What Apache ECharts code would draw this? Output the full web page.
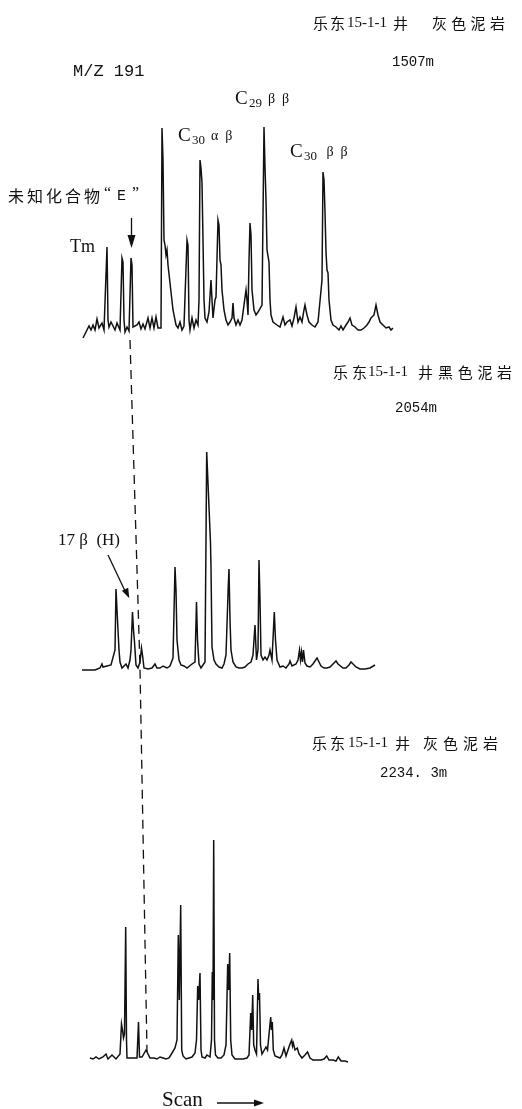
<!DOCTYPE html>
<html><head><meta charset="utf-8">
<script src="https://cdn.jsdelivr.net/npm/echarts@6/dist/echarts.min.js"></script>
<style>html,body{margin:0;padding:0;background:#fff}#c{width:522px;height:1109px}</style>
</head><body><div id="c"></div>
<script>
// ---- DATA: m/z 191 mass chromatograms, [scan, relative abundance] ----
const trace1507 = [[83,-10],[86,-4],[89,2],[91,-2],[93,3],[95,-2],[97,9],[99,0],[102,5],[104,-2],[106,-1],[107,81],[108,8],[109,1],[111,6],[113,2],[115,-2],[117,5],[120,-2],[121.5,-2],[122,70],[123,66],[124,8],[125,-4],[127,1],[129,-3],[131,70],[132,63],[133,1],[135,-1],[137,3],[139,6],[141,-1],[143,4],[145,-1],[148,10],[150,0],[152,10],[154,0],[156,11],[158,0],[161,0],[162,200],[163,168],[164,88],[165,83],[166,73],[167,78],[168,63],[170,45],[173,18],[176,3],[178,0],[180,6],[182,-2],[184,2],[186,0],[187,88],[188,83],[189,8],[190,-2],[192,10],[194,0],[196,8],[198,3],[199,28],[200,168],[201,160],[202,145],[203,88],[204,28],[205,10],[207,6],[209,16],[211,48],[212,28],[213,10],[215,28],[216,31],[218,108],[219,103],[220,68],[221,63],[222,38],[224,18],[226,8],[228,3],[230,6],[232,10],[233,25],[234,10],[236,3],[238,8],[240,3],[242,8],[244,8],[246,38],[247,28],[248,13],[249,68],[250,105],[251,93],[252,38],[254,18],[256,13],[258,16],[260,18],[262,23],[264,201],[265,161],[266,128],[267,78],[268,76],[269,66],[270,28],[271,13],[273,6],[277,3],[280,1],[283,11],[285,3],[287,6],[290,8],[292,2],[294,10],[296,21],[298,6],[300,11],[302,6],[304,18],[305,23],[307,13],[309,6],[312,3],[315,1],[318,6],[320,6],[322,48],[323,156],[324,148],[325,116],[326,76],[327,58],[328,55],[329,28],[331,8],[333,3],[336,1],[339,-2],[341,2],[343,-2],[346,3],[348,6],[350,10],[352,3],[355,1],[358,-2],[361,-2],[364,0],[367,3],[369,6],[371,10],[374,13],[376,23],[378,13],[380,6],[383,3],[386,0],[389,1],[391,-2],[393,0]];

const trace2054 = [[82,-2],[88,-2],[95,-2],[100,0],[102,4],[103,1],[105,0],[107,2],[109,0],[111,3],[113,5],[115,18],[116,79],[117,58],[118,38],[119,18],[120,6],[122,0],[124,2],[126,4],[128,0],[130,8],[131,18],[132.5,56],[133.5,38],[134.5,26],[136,3],[138,0],[140,6],[141.5,20],[142.5,13],[144,0],[148,-1],[152,0],[155,4],[157,0],[160,0],[163,2],[165,4],[167,0],[170,2],[173,10],[175,101],[176,78],[177,28],[179,8],[181,3],[184,2],[187,0],[189,1],[192,4],[195,6],[196.5,66],[197.5,28],[199,4],[201,0],[203,2],[205,6],[206.7,216],[210.5,125],[211,100],[211.5,60],[212,21],[214,8],[216,4],[219,1],[222,0],[224,4],[226,13],[228.3,83],[229,99],[230,48],[231,18],[233,6],[236,1],[239,0],[242,0],[245,1],[248,4],[251,6],[253,13],[255,43],[256.5,8],[258,18],[259,108],[260,68],[261,13],[263,8],[265,11],[267,8],[269,13],[270,18],[272,8],[274.3,56],[275.5,28],[277,8],[280,1],[283,2],[286,0],[289,4],[290,7],[292,2],[294,3],[296,4],[298,8],[299.5,18],[300.5,8],[301.5,16],[302.5,6],[303.5,18],[305,5],[307,2],[310,1],[313,4],[315,6],[317,10],[319,6],[321,2],[324,0],[327,0],[330,1],[333,4],[336,7],[338,4],[340,2],[343,0],[346,0],[349,3],[351,6],[353,4],[356,1],[360,-1],[365,-1],[370,0],[375,3]];

const trace2234 = [[90,0],[93,-1],[96,1],[99,-1],[101,-2],[103,1],[106,4],[108,-1],[110,0],[112,3],[114,5],[116,-1],[118,0],[120,4],[121.5,34],[122.5,28],[123.5,20],[124.5,24],[125.7,131],[126.5,18],[127,0],[130,0],[134,0],[137,0],[138.5,36],[139.5,1],[142,1],[144,3],[146,8],[148,4],[150,0],[154,0],[157,-1],[160,1],[163,0],[166,-1],[169,0],[172,5],[175,10],[177,18],[178.3,123],[179.3,58],[180.7,153],[181.7,8],[183,2],[186,-1],[189,0],[192,1],[195,5],[196.5,18],[197.7,72],[198.7,58],[200,85],[201,8],[202,1],[205,0],[207,3],[208.5,5],[210,1],[211.5,18],[212.3,86],[213,58],[213.7,218],[214.5,18],[215.5,3],[218,0],[221,0],[224,3],[226,13],[227.7,94],[228.7,68],[229.7,105],[230.7,18],[232,3],[235,-1],[239,-1],[243,-1],[247,0],[249,3],[250.7,45],[251.7,28],[252.7,63],[253.7,13],[255,8],[256.5,4],[258,79],[258.7,58],[259.5,65],[260.5,13],[262,4],[264,3],[266,11],[267.5,8],[269,6],[270.7,41],[271.5,28],[272.3,36],[273.3,8],[275,2],[277,0],[280,0],[282,3],[284,10],[286,2],[288,8],[290,14],[291.7,18],[292.5,12],[293.3,15],[295,8],[297.3,10],[299,4],[302,0],[305,3],[307.5,6],[310,0],[313,-2],[317,-2],[321,-2],[324,-1],[326.7,2],[329,-2],[333,-2],[336,-3],[338.3,1],[341,-3],[345,-3],[348,-4]];

const sampleWell = ['乐东', '15-1-1', '井'];
const sampleLithology = ['灰色泥岩', '黑色泥岩', '灰色泥岩'];
const sampleDepth = ['1507m', '2054m', '2234. 3m'];
const ionLabel = 'M/Z 191';
const unknownName = '未知化合物';
const unknownCode = 'E';
const axisLabel = 'Scan';

// ---- CHART ----
const chart = echarts.init(document.getElementById('c'), null, {renderer: 'canvas'});
const CJK = '"Noto Sans CJK SC", sans-serif';
const SERIF = '"Liberation Serif", "DejaVu Serif", serif';
const MONO = '"Liberation Mono", "DejaVu Sans Mono", monospace';
const INK = '#111';

const gridTops = [100, 440, 830];
const traces = [trace1507, trace2054, trace2234];
const grids = gridTops.map(t => ({left: 80, width: 320, top: t, height: 250}));
const xAxes = gridTops.map((_, i) => ({type: 'value', gridIndex: i, min: 80, max: 400, show: false}));
const yAxes = gridTops.map((_, i) => ({type: 'value', gridIndex: i, min: -22, max: 228, show: false}));
const series = traces.map((d, i) => ({
  type: 'line', xAxisIndex: i, yAxisIndex: i, data: d, symbol: 'none', silent: true,
  lineStyle: {color: INK, width: 1.5, join: 'miter'}
}));

function txt(x, y, s, font, align) {
  return {type: 'text', x: x, y: y, silent: true,
    style: {text: s, font: font, fill: INK, align: align || 'left', verticalAlign: 'middle'}};
}
function spaced(x, y, s, step, font) {
  return Array.from(s).map((ch, i) => txt(x + i * step, y, ch, font));
}
function title(y, xs, lith) {
  const f = '15px ' + CJK;
  return [
    ...spaced(xs[0], y, sampleWell[0], xs[1], f),
    txt(xs[2], y, sampleWell[1], '15px ' + SERIF),
    txt(xs[3], y, sampleWell[2], f),
    ...spaced(xs[4], y, lith, xs[5], f)
  ];
}
function line(pts, dash, w) {
  return {type: 'polyline', silent: true, shape: {points: pts},
    style: {stroke: INK, lineWidth: w || 1.3, fill: null, lineDash: dash || null}};
}
function head(pts) {
  return {type: 'polygon', silent: true, shape: {points: pts}, style: {fill: INK}};
}
function clabel(x, y, sub, rest) {
  return [
    txt(x, y, 'C', '19px ' + SERIF),
    txt(x + 14, y + 5, sub, '13px ' + SERIF),
    txt(x + 33, y, rest, '14px ' + SERIF)
  ];
}

const graphics = [
  ...title(23, [313, 17, 347, 393, 432, 19.3], sampleLithology[0]),
  txt(392, 62, sampleDepth[0], '14px ' + MONO),
  ...title(372, [333, 19, 368, 418, 438, 19.7], sampleLithology[1]),
  txt(395, 408, sampleDepth[1], '14px ' + MONO),
  ...title(743, [312, 18, 348, 395, 423, 20], sampleLithology[2]),
  txt(380, 773, sampleDepth[2], '14px ' + MONO),
  txt(73, 71, ionLabel, '17px ' + MONO),
  ...clabel(235, 99, '29', 'β  β'),
  ...clabel(178, 136, '30', 'α  β'),
  ...clabel(290, 152, '30', ' β  β'),
  ...spaced(8, 196, unknownName, 19, '16px ' + CJK),
  txt(104, 194, '“', '16px ' + SERIF),
  txt(117, 196, unknownCode, '15px ' + MONO),
  txt(132, 194, '”', '16px ' + SERIF),
  txt(70, 247, 'Tm', '18px ' + SERIF),
  line([[131.5, 218], [131.5, 238]]),
  head([[127.5, 235], [135.5, 235], [131.5, 248]]),
  txt(58, 541, '17 β  (H)', '17px ' + SERIF),
  line([[108, 555], [126, 593]]),
  head([[129.3, 598.3], [128.2, 587.8], [121.9, 590.8]]),
  line([[130, 340], [140, 668], [147, 1052]], [9, 6], 1.3),
  txt(162, 1100, axisLabel, '21px ' + SERIF),
  line([[217, 1103], [256, 1103]]),
  head([[254, 1099.5], [264, 1103], [254, 1106.5]])
];

chart.setOption({
  animation: false,
  backgroundColor: '#fff',
  grid: grids, xAxis: xAxes, yAxis: yAxes, series: series,
  graphic: graphics
});
</script></body></html>
